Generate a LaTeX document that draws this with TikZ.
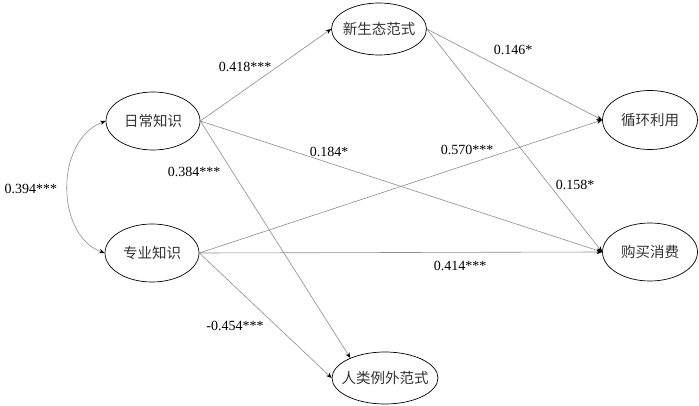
\documentclass[tikz,border=0pt]{standalone}
\usepackage{fontspec}
\setmainfont{Liberation Serif}
\newfontfamily\cjk{Noto Sans CJK SC}
\usetikzlibrary{shapes.geometric,arrows.meta}
\begin{document}
\begin{tikzpicture}[x=1pt,y=-1pt,
  latent/.style={ellipse,draw=black,line width=0.7pt,minimum width=94pt,minimum height=58pt,inner xsep=-12pt,inner ysep=0pt,
    font=\cjk\fontsize{14.5}{14.5}\selectfont,text=black!80},
  arr/.style={draw=black!45,line width=0.6pt,-{Stealth[black,length=5.5pt,width=4.5pt]}},
  coef/.style={font=\fontsize{14}{14}\selectfont,inner sep=0pt}]
\useasboundingbox (0,0) rectangle (699,406);
\node[latent] (rc) at (153,121) {日常知识};
\node[latent] (zy) at (152,253) {专业知识};
\node[latent,minimum width=95pt,minimum height=52pt] (xs) at (379,29) {新生态范式};
\node[latent,minimum width=95pt,minimum height=59pt] (xh) at (650,120) {循环利用};
\node[latent,minimum width=95pt,minimum height=58pt] (gm) at (650,252) {购买消费};
\node[latent,minimum width=106pt,minimum height=52pt] (rl) at (385,378) {人类例外范式};
\draw[arr] (rc.east) -- (xs.west);
\draw[arr] (rc.east) -- (gm.west);
\draw[arr] (rc.east) -- (rl.150);
\draw[arr] (zy.east) -- (xh.west);
\draw[arr] (zy.east) -- (gm.west);
\draw[arr] (zy.east) -- (rl.west);
\draw[arr] (xs.east) -- (xh.west);
\draw[arr] (xs.east) -- (gm.west);
\draw[arr,{Stealth[black,length=5.5pt,width=4.5pt]}-{Stealth[black,length=5.5pt,width=4.5pt]}] (rc.west) .. controls (55,140) and (55,235) .. (zy.west);
\node[coef] (c1) at (245,67) {0.418***};
\node[coef] (c2) at (329,152) {0.184*};
\node[coef] (c3) at (194,172) {0.384***};
\node[coef] (c4) at (467,150) {0.570***};
\node[coef] (c5) at (513,50) {0.146*};
\node[coef] (c6) at (575,185) {0.158*};
\node[coef] (c7) at (460,266) {0.414***};
\node[coef] (c8) at (235,326) {-0.454***};
\node[coef] (c9) at (31,189) {0.394***};
\end{tikzpicture}
\end{document}
